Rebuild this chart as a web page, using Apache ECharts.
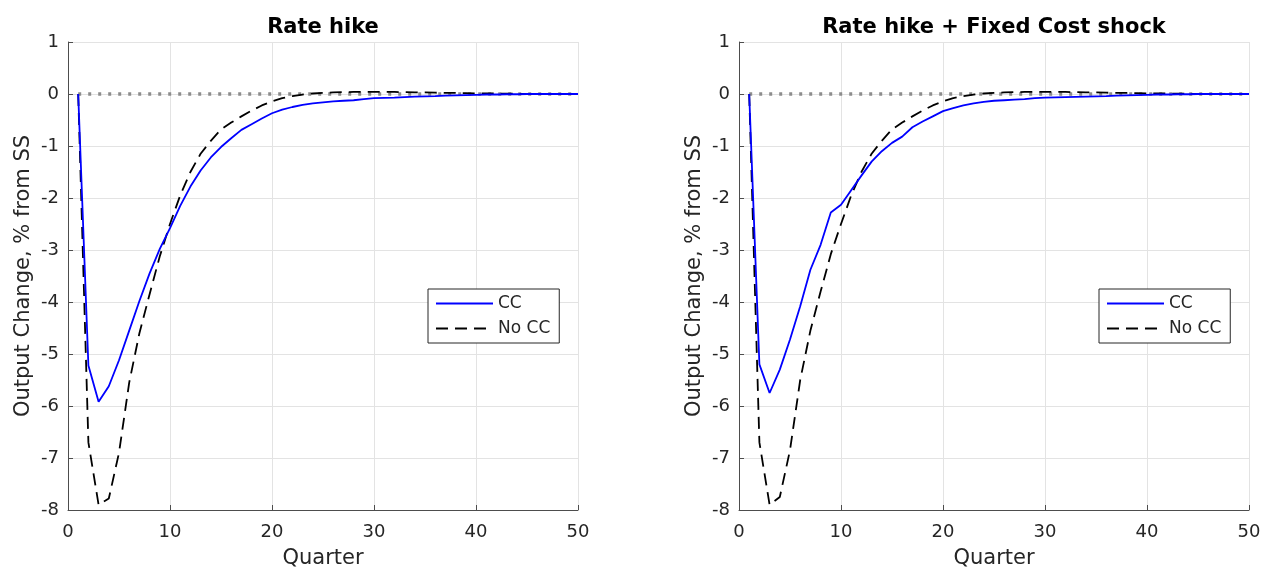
<!DOCTYPE html>
<html>
<head>
<meta charset="utf-8">
<script src="https://cdn.jsdelivr.net/npm/echarts@6/dist/echarts.min.js"></script>
<style>
  html, body { margin: 0; padding: 0; background: #fff; }
  #chart { width: 1263px; height: 568px; }
</style>
</head>
<body>
<div id="chart"></div>
<script>
// quarters 1..50
const quarters = [
  1, 2, 3, 4, 5, 6, 7, 8, 9, 10, 11, 12, 13, 14, 15, 16, 17, 18, 19, 20,
  21, 22, 23, 24, 25, 26, 27, 28, 29, 30, 31, 32, 33, 34, 35, 36, 37, 38, 39, 40,
  41, 42, 43, 44, 45, 46, 47, 48, 49, 50
];

// left panel: rate hike
const ccRate = [
  0, -5.22, -5.92, -5.62, -5.12, -4.55, -3.98, -3.45, -2.98, -2.58,
  -2.15, -1.78, -1.47, -1.22, -1.02, -0.85, -0.69, -0.58, -0.47, -0.37,
  -0.3, -0.25, -0.21, -0.18, -0.16, -0.14, -0.13, -0.12, -0.1, -0.08,
  -0.075, -0.07, -0.06, -0.05, -0.045, -0.04, -0.03, -0.025, -0.02, -0.015,
  -0.01, -0.01, -0.005, -0.005, 0, 0, 0, 0, 0, 0
];
const noCcRate = [
  0, -6.7, -7.9, -7.78, -6.9, -5.55, -4.6, -3.85, -3.12, -2.5,
  -1.95, -1.5, -1.15, -0.9, -0.68, -0.55, -0.43, -0.32, -0.22, -0.14,
  -0.08, -0.04, -0.01, 0.01, 0.02, 0.03, 0.035, 0.04, 0.04, 0.04,
  0.04, 0.04, 0.035, 0.03, 0.03, 0.025, 0.02, 0.02, 0.015, 0.01,
  0.01, 0.01, 0.005, 0.005, 0, 0, 0, 0, 0, 0
];

// right panel: rate hike + fixed cost shock
const ccFixed = [
  0, -5.2, -5.75, -5.3, -4.72, -4.08, -3.38, -2.9, -2.28, -2.13,
  -1.85, -1.57, -1.3, -1.1, -0.94, -0.82, -0.64, -0.53, -0.43, -0.33,
  -0.27, -0.22, -0.18, -0.15, -0.13, -0.12, -0.11, -0.1, -0.08, -0.07,
  -0.065, -0.06, -0.055, -0.05, -0.045, -0.04, -0.03, -0.025, -0.02, -0.015,
  -0.01, -0.01, -0.005, -0.005, 0, 0, 0, 0, 0, 0
];
const noCcFixed = [
  0, -6.7, -7.9, -7.75, -6.85, -5.5, -4.55, -3.8, -3.08, -2.5,
  -1.95, -1.5, -1.15, -0.9, -0.68, -0.55, -0.43, -0.32, -0.22, -0.14,
  -0.08, -0.04, -0.01, 0.01, 0.02, 0.03, 0.035, 0.04, 0.04, 0.04,
  0.04, 0.04, 0.035, 0.03, 0.03, 0.025, 0.02, 0.02, 0.015, 0.01,
  0.01, 0.01, 0.005, 0.005, 0, 0, 0, 0, 0, 0
];

const titles = ['Rate hike', 'Rate hike + Fixed Cost shock'];
const seriesNames = ['CC', 'No CC'];
const zeroLine = [[1, 0], [50, 0]];

const FONT = 'DejaVu Sans';
const TXT = '#262626';

const pairs = ys => quarters.map((q, i) => [q, ys[i]]);

// outerBoundsMode none: keep the plot box where the reference has it,
// the "Quarter" label is allowed to run off the bottom edge
const grids = [
  { left: 68, right: 685, top: 42, bottom: 58, outerBoundsMode: 'none' },
  { left: 739, right: 14, top: 42, bottom: 58, outerBoundsMode: 'none' }
];

function xAxisFor(i) {
  return {
    type: 'value', gridIndex: i, min: 0, max: 50, interval: 10,
    name: 'Quarter', nameLocation: 'middle', nameGap: 38,
    nameTextStyle: { fontFamily: FONT, fontSize: 21, color: TXT },
    axisLine: { onZero: false, lineStyle: { color: '#4d4d4d', width: 1 } },
    axisTick: { inside: true, length: 5, lineStyle: { color: '#4d4d4d' } },
    axisLabel: { fontFamily: FONT, fontSize: 18, color: TXT, margin: 13 },
    splitLine: { show: true, lineStyle: { color: '#e3e3e3', width: 1 } }
  };
}
function yAxisFor(i) {
  return {
    type: 'value', gridIndex: i, min: -8, max: 1, interval: 1,
    name: 'Output Change, % from SS', nameLocation: 'middle', nameGap: 34,
    nameTextStyle: { fontFamily: FONT, fontSize: 21, color: TXT },
    axisLine: { show: true, onZero: false, lineStyle: { color: '#4d4d4d', width: 1 } },
    axisTick: { show: true, inside: true, length: 5, lineStyle: { color: '#4d4d4d' } },
    axisLabel: { fontFamily: FONT, fontSize: 18, color: TXT, margin: 9 },
    splitLine: { show: true, lineStyle: { color: '#e3e3e3', width: 1 } }
  };
}

function legendFor(left) {
  return {
    data: seriesNames, orient: 'vertical', left: left, top: 289,
    itemWidth: 57, itemHeight: 14, itemGap: 8,
    padding: [6, 9, 6, 7],
    borderColor: '#262626', borderWidth: 1, borderRadius: 0,
    backgroundColor: '#fff',
    selectedMode: false,
    itemStyle: { opacity: 0 },
    textStyle: { fontFamily: FONT, fontSize: 17, color: TXT }
  };
}

const panels = [[ccRate, noCcRate], [ccFixed, noCcFixed]];
const series = [];
panels.forEach(([cc, nocc], i) => {
  series.push({
    name: 'zero', type: 'line', xAxisIndex: i, yAxisIndex: i,
    data: zeroLine, symbol: 'none', silent: true, z: 1,
    lineStyle: { color: '#8c8c8c', width: 3.5, type: [3, 7] }
  });
  series.push({
    name: 'CC', type: 'line', xAxisIndex: i, yAxisIndex: i,
    data: pairs(cc), symbol: 'none', z: 3,
    itemStyle: { color: '#0000ff' },
    lineStyle: { color: '#0000ff', width: 1.8 }
  });
  series.push({
    name: 'No CC', type: 'line', xAxisIndex: i, yAxisIndex: i,
    data: pairs(nocc), symbol: 'none', z: 2,
    itemStyle: { color: '#000000' },
    lineStyle: { color: '#000000', width: 1.8, type: [12, 7] }
  });
});

const chart = echarts.init(document.getElementById('chart'), null, { renderer: 'canvas' });
chart.setOption({
  animation: false,
  backgroundColor: '#fff',
  title: titles.map((t, i) => ({
    text: t, left: i === 0 ? 318 : 989, top: 12, textAlign: 'center',
    textStyle: { fontFamily: FONT, fontSize: 21, fontWeight: 'bold', color: '#000' }
  })),
  legend: [legendFor(428), legendFor(1099)],
  grid: grids,
  xAxis: [xAxisFor(0), xAxisFor(1)],
  yAxis: [yAxisFor(0), yAxisFor(1)],
  series: series
});
</script>
</body>
</html>
